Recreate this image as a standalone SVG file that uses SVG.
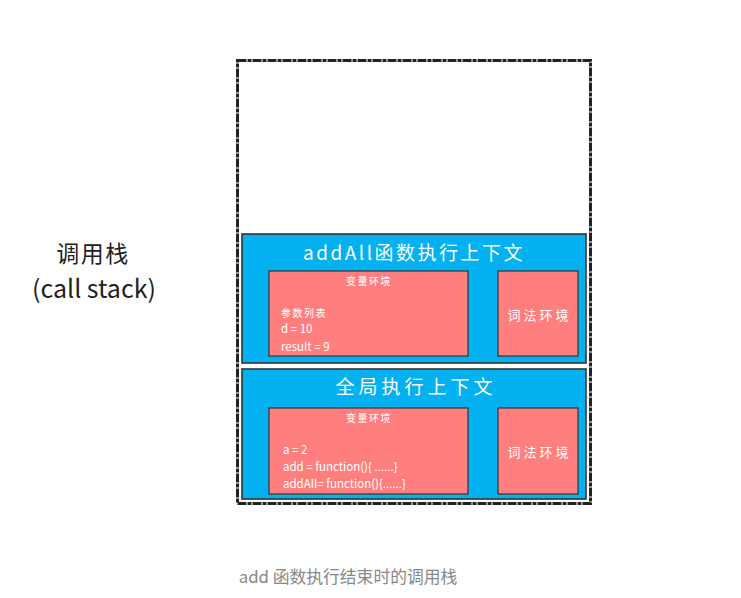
<svg xmlns="http://www.w3.org/2000/svg" width="741" height="598" viewBox="0 0 741 598">
<style>
.ctx{fill:#03b0f0;stroke:#333;stroke-width:1.6}
.env{fill:#ff7f7f;stroke:#333;stroke-width:1.2}
.t{font-family:"Noto Sans CJK SC","Noto Sans",sans-serif;fill:#fff}
.h{font-size:19px;text-anchor:middle}
.s{font-size:10px;text-anchor:middle;letter-spacing:1.5px}
.x{font-size:13px;text-anchor:middle;letter-spacing:3px}
.c{font-size:11.5px}
.l{font-family:"Noto Sans CJK SC","Noto Sans",sans-serif;fill:#222;text-anchor:middle}
</style>
<rect width="741" height="598" fill="#fff"/>
<g id="stack">
<rect x="237.5" y="60.5" width="353" height="443" fill="#fff" stroke="#222" stroke-width="3" stroke-dasharray="9 1 4 1"/>
</g>
<g id="addAll-context">
<rect class="ctx" x="242" y="234" width="344" height="129"/>
<text class="t h" x="414" y="260" letter-spacing="2.5">addAll函数执行上下文</text>
</g>
<g id="addAll-var-env">
<rect class="env" x="269" y="271" width="199" height="85"/>
<text class="t s" x="369" y="285">变量环境</text>
<text class="t" x="281" y="317" font-size="10" letter-spacing="1.5" font-family="Noto Sans CJK SC,sans-serif">参数列表</text>
<text class="t c" x="281" y="333">d = 10</text>
<text class="t c" x="281" y="351">result = 9</text>
</g>
<g id="addAll-lex-env">
<rect class="env" x="498" y="271" width="80" height="85"/>
<text class="t x" x="539.5" y="320">词法环境</text>
</g>
<g id="global-context">
<rect class="ctx" x="242" y="369" width="344" height="130"/>
<text class="t h" x="416" y="394" letter-spacing="4">全局执行上下文</text>
</g>
<g id="global-var-env">
<rect class="env" x="269" y="408" width="199" height="86"/>
<text class="t s" x="369" y="422">变量环境</text>
<text class="t c" x="283" y="454">a = 2</text>
<text class="t c" x="283" y="471">add = function(){ ......}</text>
<text class="t c" x="283" y="488">addAll= function(){......}</text>
</g>
<g id="global-lex-env">
<rect class="env" x="498" y="408" width="80" height="86"/>
<text class="t x" x="539.5" y="457">词法环境</text>
</g>
<g id="label">
<text class="l" x="93" y="262" font-size="23" letter-spacing="1.5">调用栈</text>
<text class="l" x="94" y="298" font-size="25">(call stack)</text>
</g>
<g id="connectors"></g>
<g id="caption">
<text x="348" y="583" font-size="16.8" fill="#888" text-anchor="middle" font-family="Noto Sans CJK SC,sans-serif">add 函数执行结束时的调用栈</text>
</g>
</svg>
